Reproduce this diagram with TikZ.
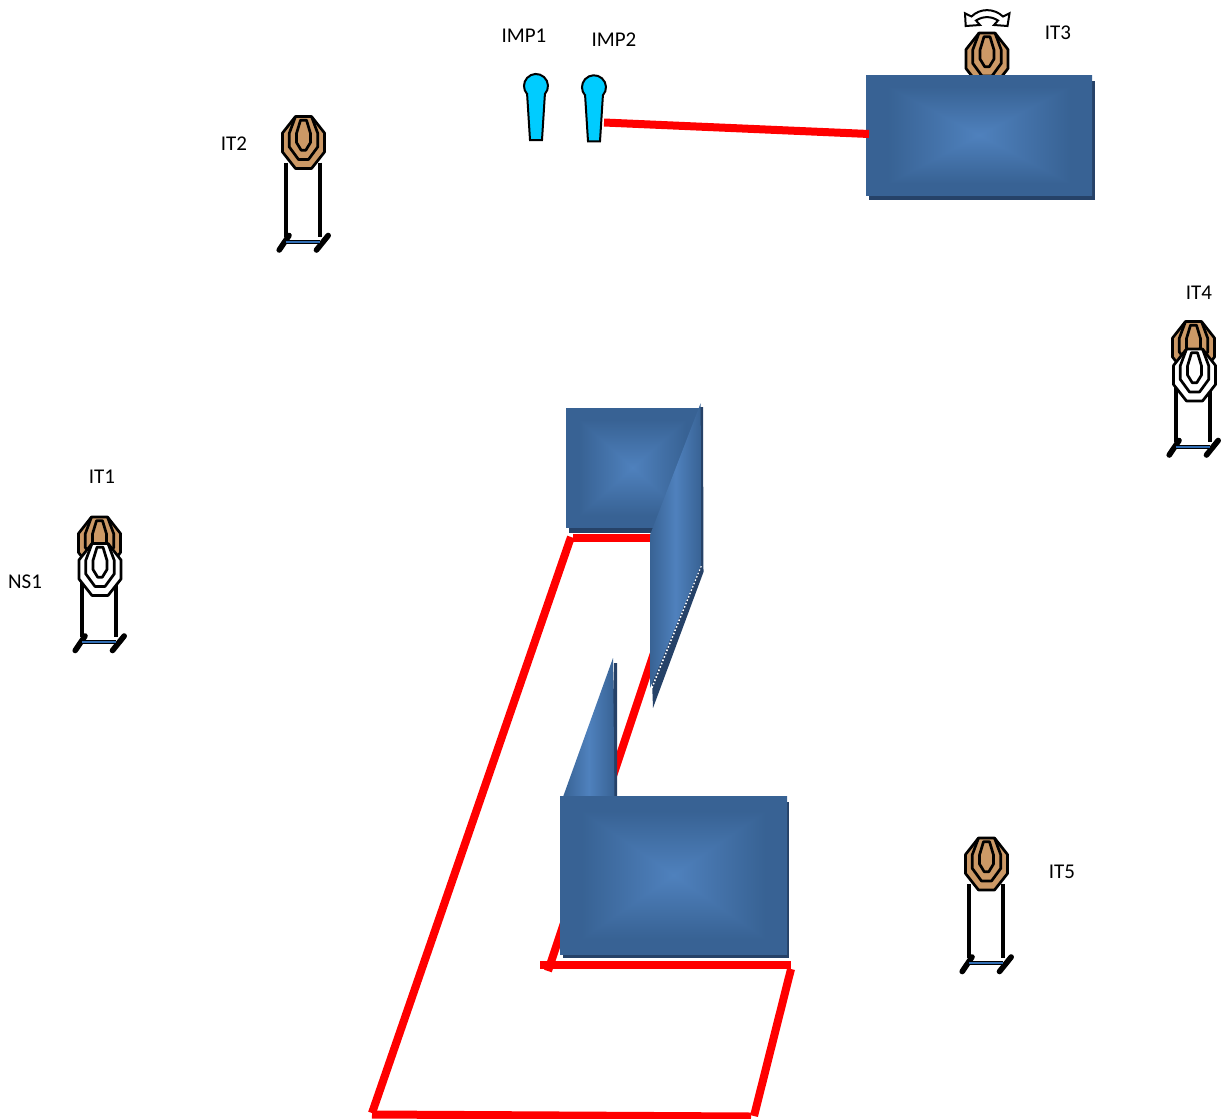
\documentclass[tikz,border=0pt]{standalone}
\usepackage{fontspec}
\setmainfont{Carlito}
\usepackage{tikz}
\definecolor{wallshadow}{RGB}{38, 66, 104}
\definecolor{targetbrown}{RGB}{204, 153, 102}
\definecolor{impblue}{RGB}{0, 204, 255}
\definecolor{barblue}{RGB}{50, 110, 180}
\pgfdeclarefunctionalshading{wallglow}{\pgfpoint{-50bp}{-50bp}}{\pgfpoint{50bp}{50bp}}{}{
  abs exch abs 2 copy lt {exch} if pop 25 div
  1.25 mul 1 2 copy gt {exch} if pop
  dup -0.09 mul 0.31 add exch dup -0.12 mul 0.506 add exch -0.16 mul 0.741 add
}
\pgfdeclarefunctionalshading{wedgeglow}{\pgfpoint{-50bp}{-50bp}}{\pgfpoint{50bp}{50bp}}{}{
  pop abs 25 div 1 2 copy gt {exch} if pop
  dup -0.09 mul 0.31 add exch dup -0.12 mul 0.506 add exch -0.16 mul 0.741 add
}
\tikzset{
  head/.pic={
    \draw[line width=1.35pt, fill=#1, line join=round] (-8,-26) -- (8,-26) -- (21,-9.5) -- (21,9.5) -- (8,26) -- (-8,26) -- (-21,9.5) -- (-21,-9.5) -- cycle;
    \draw[line width=1.35pt, line join=round] (-8,-26) -- (-14.3,-9) -- (-14.3,4.3) -- (-5,17) -- (5,17) -- (14.3,4.3) -- (14.3,-9) -- (8,-26);
    \draw[line width=1.35pt, line join=round] (-3,-22.3) -- (3,-22.3) -- (7,-9) -- (7,0) -- (2.3,7.7) -- (-2.3,7.7) -- (-7,0) -- (-7,-9) -- cycle;
  },
  stand/.pic={
    \draw[line width=2.4pt] (-17.5,20) -- (-17.5,94);
    \draw[line width=2.4pt] (16.5,20) -- (16.5,94);
    \draw[line width=2.8pt, line cap=round] (-24.3,107.5) -- (-14.5,93);
    \draw[line width=2.8pt, line cap=round] (13,107.5) -- (24.7,93);
    \draw[line width=2pt] (-18,99) -- (16,99);
    \draw[line width=1pt, barblue] (-18,99) -- (16,99);
  },
  imp/.pic={
    \draw[line width=1pt, fill=impblue] (-8.9,8) -- (-6,54) -- (6,54) -- (8.9,8) arc[start angle=42, end angle=-222, radius=12] -- cycle;
  }
}
\begin{document}
\begin{tikzpicture}[
  x=0.5pt, y=-0.5pt,
  wire/.style={line width=4pt, color=red},
  tag/.style={font=\fontsize{10.5}{12}\selectfont, color=black, inner sep=0pt},
  shadow/.style={fill=wallshadow},
  wedge/.style={shading=wedgeglow}
]
\useasboundingbox (0,0) rectangle (1221,1119);

% fault line corners
\coordinate (a1) at (571,537);
\coordinate (a2) at (372,1113);
\coordinate (a3) at (372,1114.5);
\coordinate (a4) at (751,1116.5);
\coordinate (a5) at (754,1116);
\coordinate (a6) at (791,969);
\coordinate (a7) at (790.5,964.5);
\coordinate (a8) at (540,964.5);
\coordinate (a9) at (548,971);
\coordinate (a10) at (655,650);
\coordinate (a11) at (573,538);
\coordinate (a12) at (655,538);
\coordinate (b1) at (604,122.5);
\coordinate (b2) at (869,134);

\draw[wire] (a1) -- (a2);
\draw[wire] (a3) -- (a4);
\draw[wire] (a5) -- (a6);
\draw[wire] (a7) -- (a8);
\draw[wire] (a9) -- (a10);
\draw[wire] (a11) -- (a12);

% targets
\path (303.5,142.5) pic {stand} pic {head=targetbrown};
\path (986.5,864) pic {stand} pic {head=targetbrown};
\path (987,59) pic {stand} pic {head=targetbrown};
\path (99.5,543) pic {stand} pic {head=targetbrown};
\path (100,569.5) pic {head=white};
\path (1193.5,347.5) pic {stand} pic {head=targetbrown};
\path (1194.5,375) pic {head=white};

\draw[line width=1pt, fill=white] (965,13.3) -- (965.7,26) -- (980,25) -- (976,20.5) .. controls (983,16) and (991,16) .. (998,20.5) -- (994,25) -- (1007.5,26) -- (1009.5,13.3) -- (1003,16.5) .. controls (994,8) and (980,8) .. (971.5,16.5) -- cycle;

% walls
\fill[shadow] (869,81) rectangle (1095,200);
\shade[shading=wallglow] (866,75) rectangle (1092,195);
\draw[wire] (b1) -- (b2);

\fill[shadow] (569,500) rectangle (660,533);
\shade[shading=wallglow] (566,408) rectangle (699,527);
\fill[shadow] (703,407) -- (703.5,572) -- (653,708) -- (652,680) -- (699,540) -- (699,407) -- cycle;
\draw[white, line width=.8pt, densely dotted] (701,566) -- (651,690);
\shade[wedge] (700.7,403) -- (701,565) -- (650,688) -- (650,535) -- cycle;

\fill[shadow] (614,663) -- (617,663) -- (617,800) -- (610,800) -- cycle;
\shade[wedge] (613,658) -- (614.5,797) -- (563,797) -- cycle;
\fill[shadow] (563,802) rectangle (789,958);
\shade[shading=wallglow] (560,796) rectangle (787,954);

% impact markers
\path (536,86) pic {imp};
\path (594,87.3) pic {imp};

% labels
\node[tag] (imp1) at (524,36) {IMP1};
\node[tag] (imp2) at (614,40) {IMP2};
\node[tag] (it1) at (102,477) {IT1};
\node[tag] (ns1) at (25,582) {NS1};
\node[tag] (it2) at (234,144) {IT2};
\node[tag] (it3) at (1058,33) {IT3};
\node[tag] (it4) at (1199,293) {IT4};
\node[tag] (it5) at (1062,872) {IT5};
\end{tikzpicture}
\end{document}
